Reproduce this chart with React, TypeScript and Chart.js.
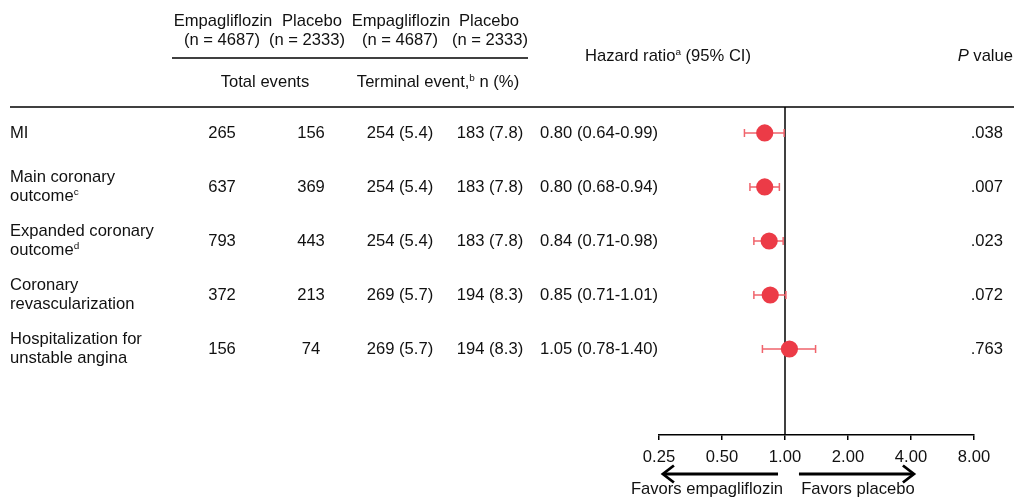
import React, { useEffect, useRef } from "react";
import { Chart, registerables } from "chart.js";

Chart.register(...registerables);

// ---------- data ----------
const outcomeLines: string[][] = [
  ["MI"],
  ["Main coronary", "outcome"],
  ["Expanded coronary", "outcome"],
  ["Coronary", "revascularization"],
  ["Hospitalization for", "unstable angina"],
];
const outcomeSup: string[] = ["", "c", "d", "", ""];
const empaTotal = [265, 637, 793, 372, 156];
const placeboTotal = [156, 369, 443, 213, 74];
const empaTermN = [254, 254, 254, 269, 269];
const empaTermPct = [5.4, 5.4, 5.4, 5.7, 5.7];
const placeboTermN = [183, 183, 183, 194, 194];
const placeboTermPct = [7.8, 7.8, 7.8, 8.3, 8.3];
const hazardRatio = [0.8, 0.8, 0.84, 0.85, 1.05];
const ciLow = [0.64, 0.68, 0.71, 0.71, 0.78];
const ciHigh = [0.99, 0.94, 0.98, 1.01, 1.4];
const pValues = [".038", ".007", ".023", ".072", ".763"];
const xTicks = [0.25, 0.5, 1, 2, 4, 8];
const leftArrow = [0.926, 0.261];
const rightArrow = [1.166, 4.13];
const favorLabels = ["Favors empagliflozin", "Favors placebo"];
const favorLabelAt = [0.424, 2.23];

// ---------- style ----------
const FONT_FAMILY = '"Liberation Sans", Arial, sans-serif';
const FS = 16.6;
const TEXT = "#111111";
const POINT = "#EC3B47";
const BAR = "#F0646C";

type Seg = { t: string; sup?: boolean; italic?: boolean };

function segFont(s: Seg) {
  const size = s.sup ? FS * 0.6 : FS;
  return `${s.italic ? "italic " : ""}${size}px ${FONT_FAMILY}`;
}

function drawRich(ctx: CanvasRenderingContext2D, segs: Seg[], x: number, y: number, align: "left" | "center" | "right") {
  let total = 0;
  for (const s of segs) {
    ctx.font = segFont(s);
    total += ctx.measureText(s.t).width;
  }
  let cx = align === "left" ? x : align === "center" ? x - total / 2 : x - total;
  ctx.textAlign = "left";
  ctx.textBaseline = "middle";
  for (const s of segs) {
    ctx.font = segFont(s);
    ctx.fillText(s.t, cx, s.sup ? y - 4 : y);
    cx += ctx.measureText(s.t).width;
  }
}

const COL_EMPA_TOT = 222;
const COL_PLAC_TOT = 311;
const COL_EMPA_TERM = 400;
const COL_PLAC_TERM = 490;

const forestPlugin = {
  id: "forest",
  beforeDatasetsDraw(chart: any) {
    const { ctx, scales } = chart;
    const xs = scales.x;
    const ys = scales.y;
    const area = chart.chartArea;
    ctx.save();
    // reference line at HR = 1
    const x1 = xs.getPixelForValue(1);
    ctx.strokeStyle = "#000";
    ctx.lineWidth = 1.5;
    ctx.beginPath();
    ctx.moveTo(x1, area.top);
    ctx.lineTo(x1, area.bottom);
    ctx.stroke();
    // error bars
    ctx.strokeStyle = BAR;
    ctx.lineWidth = 1.5;
    for (let i = 0; i < hazardRatio.length; i++) {
      const y = ys.getPixelForValue(i);
      const a = xs.getPixelForValue(ciLow[i]);
      const b = xs.getPixelForValue(ciHigh[i]);
      ctx.beginPath();
      ctx.moveTo(a, y);
      ctx.lineTo(b, y);
      ctx.moveTo(a, y - 4);
      ctx.lineTo(a, y + 4);
      ctx.moveTo(b, y - 4);
      ctx.lineTo(b, y + 4);
      ctx.stroke();
    }
    ctx.restore();
  },
  afterDraw(chart: any) {
    const { ctx, scales } = chart;
    const xs = scales.x;
    const ys = scales.y;
    const area = chart.chartArea;
    ctx.save();
    ctx.fillStyle = TEXT;
    ctx.strokeStyle = "#000";

    // header
    const h1 = 21;
    const h2 = 40;
    drawRich(ctx, [{ t: "Empagliflozin" }], COL_EMPA_TOT + 1, h1, "center");
    drawRich(ctx, [{ t: "Placebo" }], COL_PLAC_TOT + 1, h1, "center");
    drawRich(ctx, [{ t: "Empagliflozin" }], COL_EMPA_TERM + 1, h1, "center");
    drawRich(ctx, [{ t: "Placebo" }], COL_PLAC_TERM - 1, h1, "center");
    drawRich(ctx, [{ t: "(n = 4687)" }], COL_EMPA_TOT, h2, "center");
    drawRich(ctx, [{ t: "(n = 2333)" }], COL_PLAC_TOT - 4, h2, "center");
    drawRich(ctx, [{ t: "(n = 4687)" }], COL_EMPA_TERM, h2, "center");
    drawRich(ctx, [{ t: "(n = 2333)" }], COL_PLAC_TERM, h2, "center");
    ctx.lineWidth = 1.3;
    ctx.beginPath();
    ctx.moveTo(172, 58);
    ctx.lineTo(528, 58);
    ctx.stroke();
    drawRich(ctx, [{ t: "Total events" }], 265, 82, "center");
    drawRich(ctx, [{ t: "Terminal event," }, { t: "b", sup: true }, { t: " n (%)" }], 438, 82, "center");
    drawRich(ctx, [{ t: "Hazard ratio" }, { t: "a", sup: true }, { t: " (95% CI)" }], 585, 56, "left");
    drawRich(ctx, [{ t: "P", italic: true }, { t: " value" }], 1013, 56, "right");

    // separator
    ctx.lineWidth = 1.3;
    ctx.beginPath();
    ctx.moveTo(10, area.top);
    ctx.lineTo(1014, area.top);
    ctx.stroke();

    // rows
    for (let i = 0; i < outcomeLines.length; i++) {
      const y = ys.getPixelForValue(i);
      const lines = outcomeLines[i];
      const n = lines.length;
      lines.forEach((ln, k) => {
        const ly = y + (k - (n - 1) / 2) * 19.5;
        const segs: Seg[] = [{ t: ln }];
        if (k === n - 1 && outcomeSup[i]) segs.push({ t: outcomeSup[i], sup: true });
        drawRich(ctx, segs, 10, ly, "left");
      });
      drawRich(ctx, [{ t: String(empaTotal[i]) }], COL_EMPA_TOT, y, "center");
      drawRich(ctx, [{ t: String(placeboTotal[i]) }], COL_PLAC_TOT, y, "center");
      drawRich(ctx, [{ t: `${empaTermN[i]} (${empaTermPct[i].toFixed(1)})` }], COL_EMPA_TERM, y, "center");
      drawRich(ctx, [{ t: `${placeboTermN[i]} (${placeboTermPct[i].toFixed(1)})` }], COL_PLAC_TERM, y, "center");
      drawRich(
        ctx,
        [{ t: `${hazardRatio[i].toFixed(2)} (${ciLow[i].toFixed(2)}-${ciHigh[i].toFixed(2)})` }],
        540,
        y,
        "left"
      );
      drawRich(ctx, [{ t: pValues[i] }], 1003, y, "right");
    }

    // arrows
    const ay = area.bottom + 39;
    ctx.lineWidth = 2.8;
    ctx.lineCap = "butt";
    ctx.lineJoin = "miter";
    const drawArrow = (from: number, to: number) => {
      const fx = xs.getPixelForValue(from);
      const tx = xs.getPixelForValue(to);
      const dir = tx > fx ? 1 : -1;
      ctx.beginPath();
      ctx.moveTo(fx, ay);
      ctx.lineTo(tx - dir * 1, ay);
      ctx.stroke();
      ctx.beginPath();
      ctx.moveTo(tx - dir * 11, ay - 8.5);
      ctx.lineTo(tx, ay);
      ctx.lineTo(tx - dir * 11, ay + 8.5);
      ctx.stroke();
    };
    drawArrow(leftArrow[0], leftArrow[1]);
    drawArrow(rightArrow[0], rightArrow[1]);
    favorLabels.forEach((lab, k) => {
      drawRich(ctx, [{ t: lab }], xs.getPixelForValue(favorLabelAt[k]), area.bottom + 54, "center");
    });
    ctx.restore();
  },
};

export default function App() {
  const ref = useRef<HTMLCanvasElement | null>(null);
  useEffect(() => {
    document.body.style.margin = "0";
    const canvas = ref.current!;
    const chart = new Chart(canvas, {
      type: "scatter",
      data: {
        datasets: [
          {
            data: hazardRatio.map((v, i) => ({ x: v, y: i })),
            backgroundColor: POINT,
            borderWidth: 0,
            pointRadius: 8.6,
            pointHoverRadius: 8.6,
          },
        ],
      },
      options: {
        animation: false,
        responsive: false,
        devicePixelRatio: 1,
        layout: { padding: { left: 659, right: 40, top: 107, bottom: 37 } },
        plugins: { legend: { display: false }, tooltip: { enabled: false } },
        scales: {
          x: {
            type: "logarithmic",
            min: xTicks[0],
            max: xTicks[xTicks.length - 1],
            afterBuildTicks: (axis: any) => {
              axis.ticks = xTicks.map((v) => ({ value: v }));
            },
            afterFit: (axis: any) => {
              axis.height = 30;
            },
            border: { display: true, color: "#000", width: 1.5 },
            grid: { drawOnChartArea: false, drawTicks: true, tickLength: 5, color: "#000", lineWidth: 1.5 },
            ticks: {
              autoSkip: false,
              maxRotation: 0,
              padding: 7,
              color: TEXT,
              font: { family: FONT_FAMILY, size: FS },
              callback: (v: any) => Number(v).toFixed(2),
            },
          },
          y: {
            type: "linear",
            display: false,
            reverse: true,
            min: -0.481,
            max: 5.593,
          },
        },
      },
      plugins: [forestPlugin],
    });
    return () => chart.destroy();
  }, []);
  return (
    <div style={{ width: 1014, height: 502 }}>
      <canvas ref={ref} width={1014} height={502} style={{ display: "block" }} />
    </div>
  );
}
